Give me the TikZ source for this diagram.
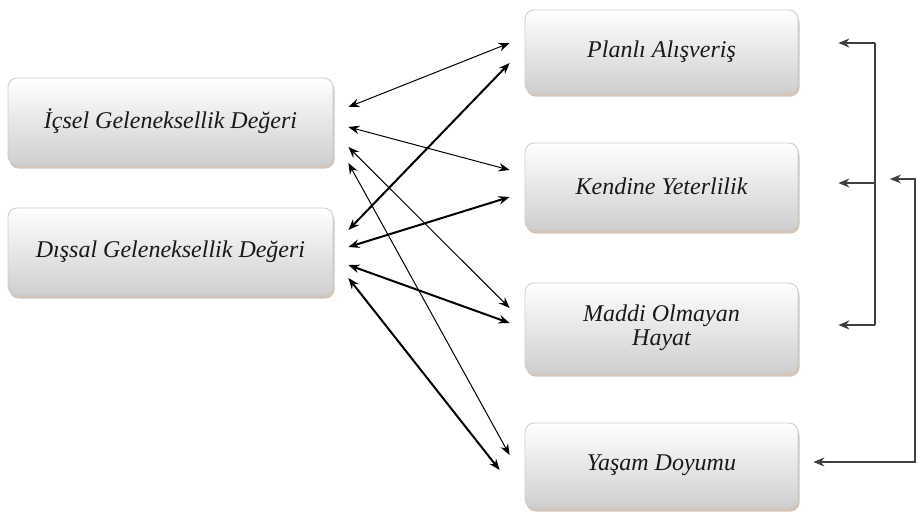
\documentclass[tikz,border=0pt]{standalone}
\usepackage{fontspec}
\setmainfont{Liberation Serif}
\usetikzlibrary{arrows.meta,shadows}
\begin{document}
\begin{tikzpicture}[x=1pt,y=-1pt,
  box/.style={rounded corners=9pt, draw=gray!40, line width=0.8pt,
    top color=white, bottom color=gray!38, minimum width=#1, inner sep=0pt,
    font=\fontsize{24}{26}\selectfont\itshape, align=center, text=black!90,
    drop shadow={shadow xshift=1.5pt, shadow yshift=-3.5pt, fill=brown!45!gray!50, opacity=0.9}},
  thin/.style={line width=1pt, {Stealth[length=11pt,width=8.5pt]}-{Stealth[length=11pt,width=8.5pt]}},
  thick/.style={line width=2pt, {Stealth[length=11pt,width=8.5pt]}-{Stealth[length=11pt,width=8.5pt]}},
  brk/.style={line width=1.2pt, draw=black!75},
  tip/.style={-{Stealth[length=11pt,width=9pt]}}
]
\useasboundingbox (0,0) rectangle (918,514);
% boxes
\node[box=325pt, minimum height=87pt] (I) at (170.5,121.5) {İçsel Geleneksellik Değeri};
\node[box=325pt, minimum height=87pt] (D) at (170.5,251.5) {Dışsal Geleneksellik Değeri};
\node[box=273pt, minimum height=83pt] (P) at (661.5,51.5) {Planlı Alışveriş};
\node[box=273pt, minimum height=87pt] (K) at (661.5,186.5) {Kendine Yeterlilik};
\node[box=273pt, minimum height=90pt] (M) at (661.5,328) {Maddi Olmayan\\[-2pt]Hayat};
\node[box=273pt, minimum height=85pt] (Y) at (661.5,465.5) {Yaşam Doyumu};
% thin connectors from İçsel
\draw[thin] ([xshift=15pt,yshift=14.5pt]I.east) -- ([xshift=-15pt,yshift=8.5pt]P.west);
\draw[thin] ([xshift=15pt,yshift=-5.5pt]I.east) -- ([xshift=-15pt,yshift=16.5pt]K.west);
\draw[thin] ([xshift=15pt,yshift=-25.5pt]I.east) -- ([xshift=-15pt,yshift=20pt]M.west);
\draw[thin] ([xshift=15pt,yshift=-41.5pt]I.east) -- ([xshift=-15pt,yshift=10.5pt]Y.west);
% thick connectors from Dışsal
\draw[thick] ([xshift=15pt,yshift=21.5pt]D.east) -- ([xshift=-15pt,yshift=-11.5pt]P.west);
\draw[thick] ([xshift=15pt,yshift=4.5pt]D.east) -- ([xshift=-15pt,yshift=-10.5pt]K.west);
\draw[thick] ([xshift=15pt,yshift=-13.5pt]D.east) -- ([xshift=-15pt,yshift=5pt]M.west);
\draw[thick] ([xshift=15pt,yshift=-26.5pt]D.east) -- ([xshift=-25pt,yshift=-4.5pt]Y.west);
% right bracket
\coordinate (bt) at (875,43);
\coordinate (bm) at (875,183);
\coordinate (bb) at (875,325);
\draw[brk] (bt) -- (bb);
\draw[brk,tip] (bt) -- ([xshift=40pt,yshift=8.5pt]P.east);
\draw[brk,tip] (bm) -- ([xshift=40pt,yshift=3.5pt]K.east);
\draw[brk,tip] (bb) -- ([xshift=40pt,yshift=3pt]M.east);
% Yaşam feedback
\coordinate (fa) at (890,179);
\coordinate (fr) at (915,179);
\coordinate (fb) at (915,462);
\draw[brk,{Stealth[length=11pt,width=9pt]}-{Stealth[length=11pt,width=9pt]}] (fa) -- (fr) -- (fb) -- ([xshift=15pt,yshift=3.5pt]Y.east);
\end{tikzpicture}
\end{document}
